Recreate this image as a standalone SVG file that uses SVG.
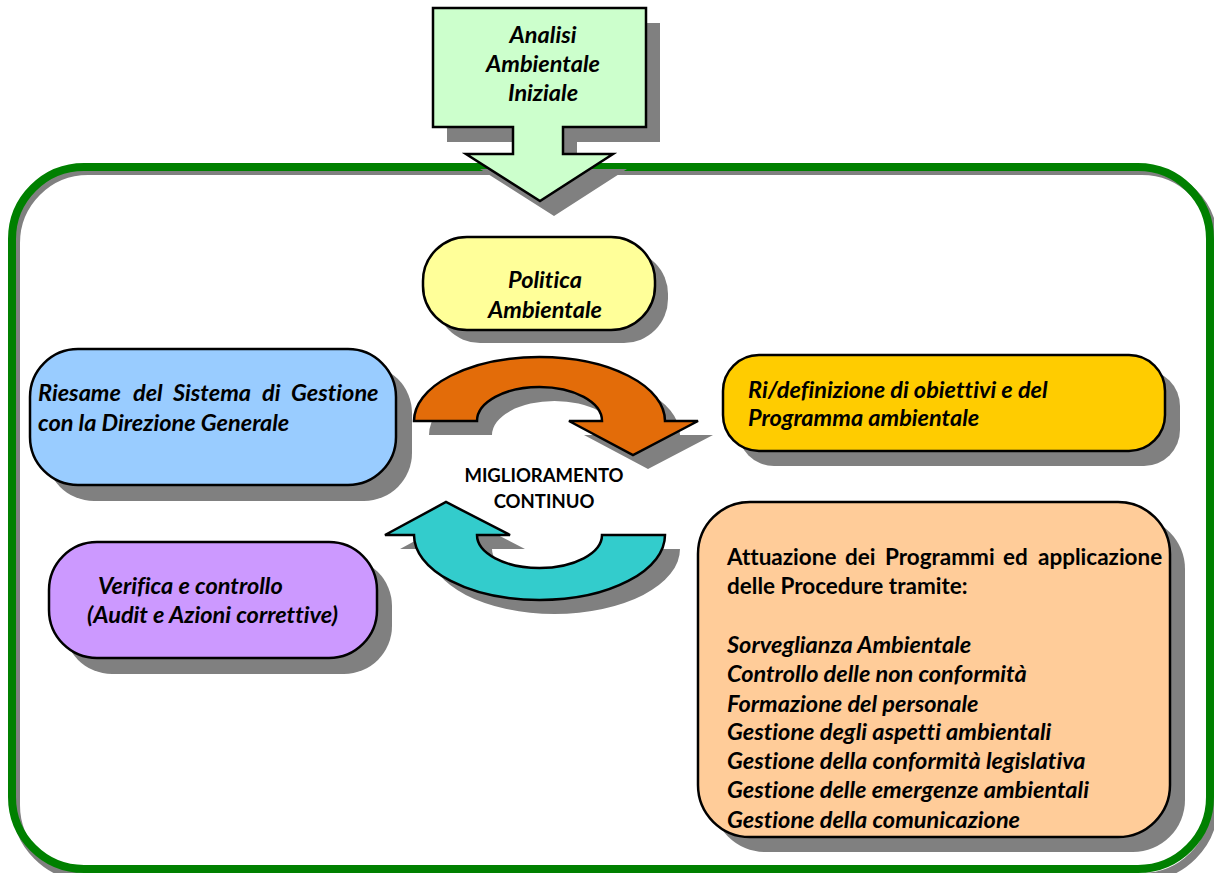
<svg xmlns="http://www.w3.org/2000/svg" width="1214" height="873" viewBox="0 0 1214 873">
<defs>
<style>
.sh{fill:#808080;stroke:none}
.box{stroke:#000;stroke-width:2.5}
.t{font-family:Lato,"Open Sans","Liberation Sans",sans-serif;font-weight:bold;font-style:italic;font-size:23.5px;fill:#000;font-variant-ligatures:none}
.tn{font-family:Lato,"Open Sans","Liberation Sans",sans-serif;font-weight:bold;font-size:22.5px;fill:#000;font-variant-ligatures:none}
.c{text-anchor:middle}
</style>
</defs>
<rect width="1214" height="873" fill="#fff"/>
<g id="frame">
<rect x="16" y="171" width="1198" height="706" rx="72" fill="none" stroke="#808080" stroke-width="8"/>
<rect x="12" y="167" width="1198" height="702" rx="72" fill="none" stroke="#008000" stroke-width="8"/>
</g>
<g id="analisi">
<path class="sh" transform="translate(14,15)" d="M433,8 H646 V127 H563 V154 H613 L540,201 L466,154 H513 V127 H433 Z"/>
<path class="box" fill="#CCFFCC" d="M433,8 H646 V127 H563 V154 H613 L540,201 L466,154 H513 V127 H433 Z"/>
<text class="t c" x="543" y="43">Analisi</text>
<text class="t c" x="543" y="72">Ambientale</text>
<text class="t c" x="543" y="101">Iniziale</text>
</g>
<g id="connectors">
<path class="sh" transform="translate(15,14)" d="M414,421 A125.5,64 0 0 1 665,421 L698,421 L633,455 L569,421 L602,421 A62.5,34 0 0 0 477,421 Z"/>
<path class="box" fill="#E36C09" d="M414,421 A125.5,64 0 0 1 665,421 L698,421 L633,455 L569,421 L602,421 A62.5,34 0 0 0 477,421 Z"/>
<path class="sh" transform="translate(15,14)" d="M665,535 A125.5,65 0 0 1 414,535 L385,535 L446,502 L510,535 L477,535 A62.5,33 0 0 0 602,535 Z"/>
<path class="box" fill="#33CCCC" d="M665,535 A125.5,65 0 0 1 414,535 L385,535 L446,502 L510,535 L477,535 A62.5,33 0 0 0 602,535 Z"/>
</g>
<g id="miglioramento">
<text class="tn c" x="544" y="482" style="font-size:18.5px">MIGLIORAMENTO</text>
<text class="tn c" x="544" y="508" style="font-size:18.5px">CONTINUO</text>
</g>
<g id="politica">
<rect class="sh" x="436" y="250" width="232" height="93" rx="44"/>
<rect class="box" fill="#FFFF99" x="423" y="237" width="232" height="93" rx="44"/>
<text class="t c" x="545" y="288">Politica</text>
<text class="t c" x="545" y="318">Ambientale</text>
</g>
<g id="riesame">
<rect class="sh" x="46" y="365" width="366" height="136" rx="48"/>
<rect class="box" fill="#99CCFF" x="30" y="349" width="366" height="136" rx="48"/>
<text class="t" y="401"><tspan x="38">Riesame</tspan> <tspan x="133">del</tspan> <tspan x="173">Sistema</tspan> <tspan x="262">di</tspan> <tspan x="291">Gestione</tspan></text>
<text class="t" x="38" y="431">con la Direzione Generale</text>
</g>
<g id="ridefinizione">
<rect class="sh" x="738" y="370" width="442" height="96" rx="36"/>
<rect class="box" fill="#FFCC00" x="723" y="355" width="442" height="96" rx="36"/>
<text class="t" x="748" y="398">Ri/definizione di obiettivi e del</text>
<text class="t" x="748" y="426">Programma ambientale</text>
</g>
<g id="verifica">
<rect class="sh" x="64" y="558" width="328" height="116" rx="48"/>
<rect class="box" fill="#CC99FF" x="49" y="542" width="328" height="116" rx="48"/>
<text class="t" x="98" y="594">Verifica e controllo</text>
<text class="t" x="87" y="623">(Audit e Azioni correttive)</text>
</g>
<g id="attuazione">
<rect class="sh" x="713" y="517" width="472" height="335" rx="52"/>
<rect class="box" fill="#FFCC99" x="698" y="502" width="472" height="335" rx="52"/>
<text class="tn" y="565"><tspan x="727">Attuazione</tspan> <tspan x="845">dei</tspan> <tspan x="885">Programmi</tspan> <tspan x="1003">ed</tspan> <tspan x="1038">applicazione</tspan></text>
<text class="tn" x="727" y="594">delle Procedure tramite:</text>
<text class="t" x="727" y="653">Sorveglianza Ambientale</text>
<text class="t" x="727" y="682">Controllo delle non conformità</text>
<text class="t" x="727" y="712">Formazione del personale</text>
<text class="t" x="727" y="740">Gestione degli aspetti ambientali</text>
<text class="t" x="727" y="769">Gestione della conformità legislativa</text>
<text class="t" x="727" y="798">Gestione delle emergenze ambientali</text>
<text class="t" x="727" y="828">Gestione della comunicazione</text>
</g>
</svg>
